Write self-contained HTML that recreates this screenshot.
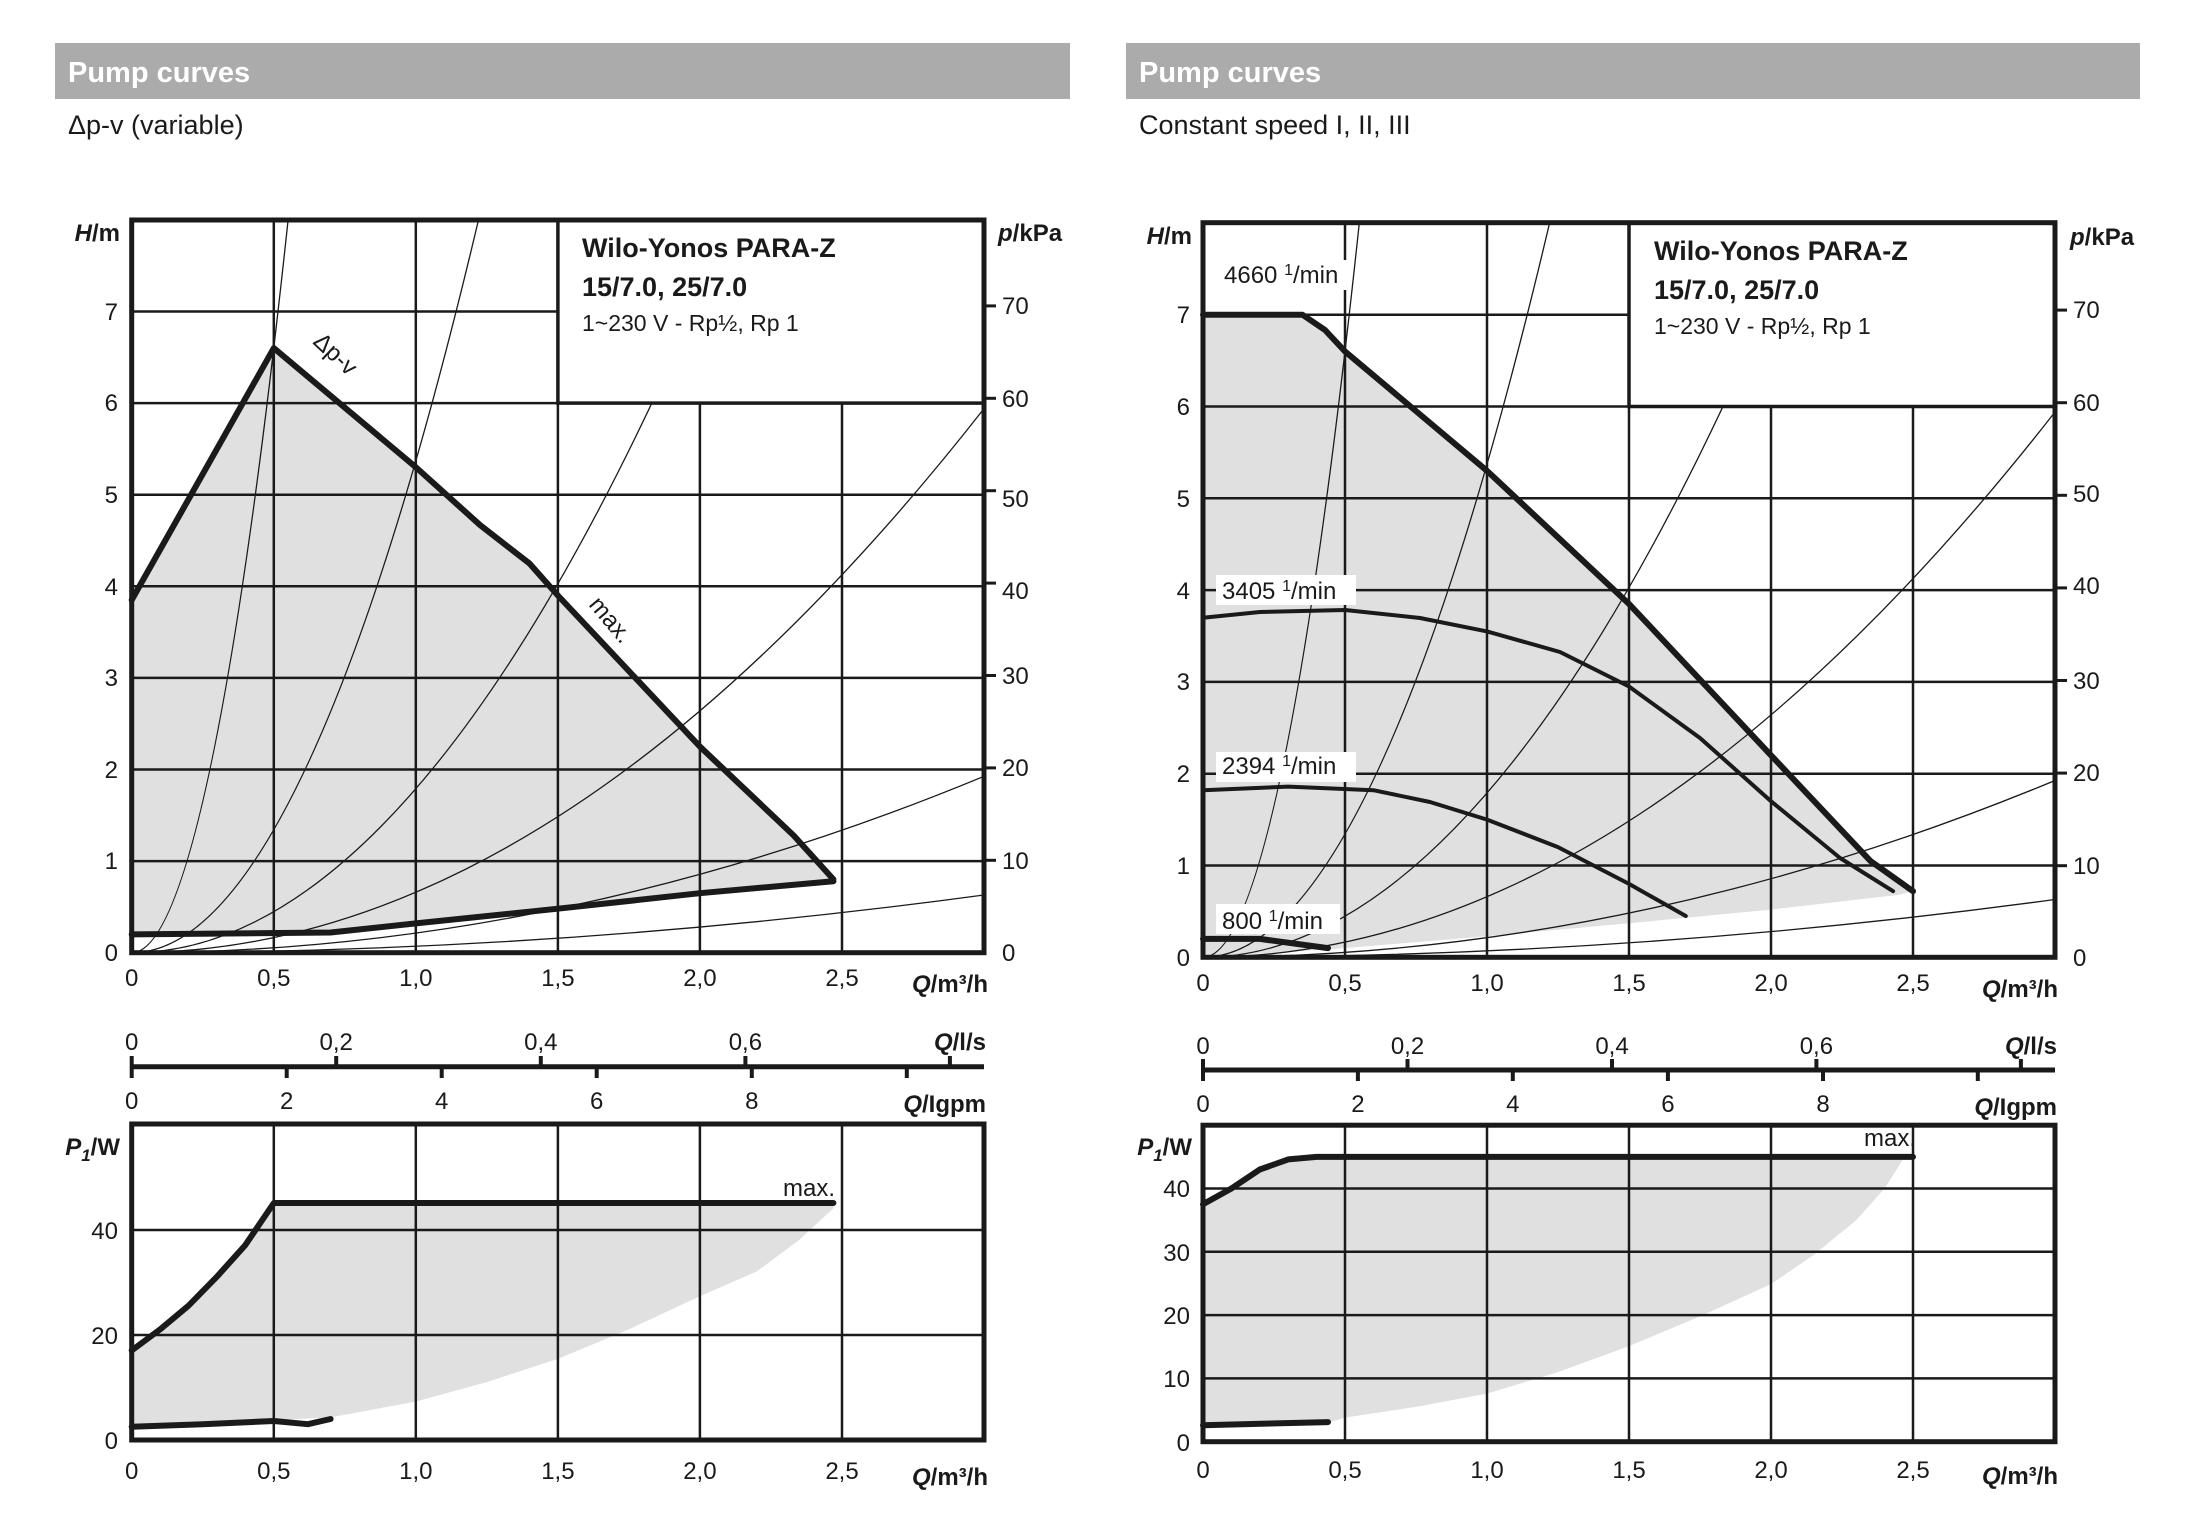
<!DOCTYPE html>
<html><head><meta charset="utf-8"><style>
html,body{margin:0;padding:0;background:#fff}
svg{display:block}
text{font-family:"Liberation Sans","DejaVu Sans",sans-serif;fill:#1a1a1a}
.t{font-size:24px}
.b{font-weight:bold}
.g{stroke:#1a1a1a;stroke-width:2.5;fill:none}
.s{stroke:#1a1a1a;stroke-width:1.3;fill:none}
.bd{stroke:#1a1a1a;stroke-width:5;fill:none}
.th{stroke:#1a1a1a;stroke-width:6;fill:none;stroke-linejoin:round;stroke-linecap:round}
.md{stroke:#1a1a1a;stroke-width:4;fill:none;stroke-linejoin:round;stroke-linecap:round}
</style></head><body>
<svg width="2189" height="1534" viewBox="0 0 2189 1534" xmlns="http://www.w3.org/2000/svg">
<defs>
<clipPath id="cl"><rect x="131.7" y="220" width="852.3" height="732.7"/></clipPath>
<clipPath id="cr"><rect x="1203" y="222.7" width="852" height="734.6"/></clipPath>
</defs>
<rect x="55" y="43" width="1015" height="56" fill="#ababab"/>
<rect x="1126" y="43" width="1014" height="56" fill="#ababab"/>
<text x="68" y="82" style="font-size:29px;font-weight:bold;fill:#fff">Pump curves</text>
<text x="1139" y="82" style="font-size:29px;font-weight:bold;fill:#fff">Pump curves</text>
<text x="68" y="134" style="font-size:27px">Δp-v (variable)</text>
<text x="1139" y="134" style="font-size:27px">Constant speed I, II, III</text>

<polygon fill="#e0e0e0" points="131.7,600 273.8,348.1 415.8,467.2 529.4,563.4 557.9,595.5 699.9,746.6 793.7,835.5 833.4,879.4 833.4,881.2 699.9,893.2 557.9,908.7 415.8,923.4 330.6,932.5 131.7,934.4"/>
<g class="g">
<line x1="273.8" y1="220" x2="273.8" y2="952.7"/><line x1="415.8" y1="220" x2="415.8" y2="952.7"/><line x1="557.9" y1="220" x2="557.9" y2="952.7"/><line x1="699.9" y1="220" x2="699.9" y2="952.7"/><line x1="842" y1="220" x2="842" y2="952.7"/>
<line x1="131.7" y1="861.1" x2="984" y2="861.1"/><line x1="131.7" y1="769.5" x2="984" y2="769.5"/><line x1="131.7" y1="677.9" x2="984" y2="677.9"/><line x1="131.7" y1="586.3" x2="984" y2="586.3"/><line x1="131.7" y1="494.7" x2="984" y2="494.7"/><line x1="131.7" y1="403.1" x2="984" y2="403.1"/><line x1="131.7" y1="311.5" x2="984" y2="311.5"/>
</g>
<g class="s" clip-path="url(#cl)">
<path d="M131.7,952.7 Q209.9,952.7 288.1,219.9"/>
<path d="M131.7,952.7 Q305.1,952.7 478.5,219.9"/>
<path d="M131.7,952.7 Q432,952.7 732.3,219.9"/>
<path d="M131.7,952.7 Q557.9,952.7 984,408.6"/>
<path d="M131.7,952.7 Q557.9,952.7 984,776.3"/>
<path d="M131.7,952.7 Q557.9,952.7 984,895"/>
</g>
<polyline class="th" points="131.7,600 273.8,348.1 415.8,467.2 480,525 529.4,563.4 557.9,595.5 699.9,746.6 793.7,835.5 833.4,879.4"/>
<polyline class="th" points="131.7,934.4 330.6,932.5 415.8,923.4 557.9,908.7 699.9,893.2 833.4,881.2"/>
<rect x="557.9" y="220" width="426.1" height="183.1" fill="#fff" stroke="#1a1a1a" stroke-width="3.5"/>
<text x="582" y="257" class="b" style="font-size:27px">Wilo-Yonos PARA-Z</text>
<text x="582" y="296" class="b" style="font-size:27px">15/7.0, 25/7.0</text>
<text x="582" y="331" style="font-size:23px">1~230 V - Rp½, Rp 1</text>
<text transform="translate(312,343) rotate(43)" class="t">Δp-v</text>
<text transform="translate(588,605) rotate(50)" class="t">max.</text>
<rect x="131.7" y="220" width="852.3" height="732.7" class="bd"/>
<g class="t" text-anchor="end">
<text x="118" y="961">0</text><text x="118" y="869">1</text><text x="118" y="778">2</text><text x="118" y="686">3</text><text x="118" y="595">4</text><text x="118" y="503">5</text><text x="118" y="411">6</text><text x="118" y="320">7</text>
</g>
<text x="120" y="241" text-anchor="end" class="b" style="font-size:24px"><tspan font-style="italic">H</tspan>/m</text>
<g class="bd" style="stroke-width:3"><line x1="984" y1="860.3" x2="996" y2="860.3"/><line x1="984" y1="767.9" x2="996" y2="767.9"/><line x1="984" y1="675.5" x2="996" y2="675.5"/><line x1="984" y1="583.1" x2="996" y2="583.1"/><line x1="984" y1="490.7" x2="996" y2="490.7"/><line x1="984" y1="398.3" x2="996" y2="398.3"/><line x1="984" y1="305.9" x2="996" y2="305.9"/></g>
<g class="t"><text x="1002" y="961">0</text><text x="1002" y="869">10</text><text x="1002" y="776">20</text><text x="1002" y="684">30</text><text x="1002" y="599">40</text><text x="1002" y="507">50</text><text x="1002" y="407">60</text><text x="1002" y="314">70</text></g>
<text x="998" y="241" class="b" style="font-size:24px"><tspan font-style="italic">p</tspan>/kPa</text>
<g class="t" text-anchor="middle"><text x="131.7" y="986">0</text><text x="273.8" y="986">0,5</text><text x="415.8" y="986">1,0</text><text x="557.9" y="986">1,5</text><text x="699.9" y="986">2,0</text><text x="842" y="986">2,5</text></g>
<text x="988" y="992" text-anchor="end" class="b" style="font-size:24px"><tspan font-style="italic">Q</tspan>/m³/h</text>
<line x1="131.7" y1="1066.7" x2="984" y2="1066.7" class="bd"/>
<g class="bd" style="stroke-width:4"><line x1="131.7" y1="1056" x2="131.7" y2="1078"/><line x1="336.2" y1="1056" x2="336.2" y2="1067"/><line x1="540.8" y1="1056" x2="540.8" y2="1067"/><line x1="745.4" y1="1056" x2="745.4" y2="1067"/><line x1="949.9" y1="1056" x2="949.9" y2="1067"/>
<line x1="286.7" y1="1067" x2="286.7" y2="1078"/><line x1="441.7" y1="1067" x2="441.7" y2="1078"/><line x1="596.7" y1="1067" x2="596.7" y2="1078"/><line x1="751.8" y1="1067" x2="751.8" y2="1078"/><line x1="906.8" y1="1067" x2="906.8" y2="1078"/></g>
<g class="t" text-anchor="middle"><text x="131.7" y="1050">0</text><text x="336.2" y="1050">0,2</text><text x="540.8" y="1050">0,4</text><text x="745.4" y="1050">0,6</text>
<text x="131.7" y="1109">0</text><text x="286.7" y="1109">2</text><text x="441.7" y="1109">4</text><text x="596.7" y="1109">6</text><text x="751.8" y="1109">8</text></g>
<text x="986" y="1050" text-anchor="end" class="b" style="font-size:24px"><tspan font-style="italic">Q</tspan>/l/s</text>
<text x="986" y="1112" text-anchor="end" class="b" style="font-size:24px"><tspan font-style="italic">Q</tspan>/Igpm</text>
<polygon fill="#e0e0e0" points="131.7,1350.5 160.1,1329.4 188.5,1305.7 216.9,1276.7 245.3,1245.1 273.8,1203 833.4,1203 833.4,1208.3 799.3,1239.9 756.7,1271.5 699.9,1296.2 628.9,1329.4 557.9,1358.9 486.8,1382.1 415.8,1401.6 330.6,1417.4 131.7,1427"/>
<g class="g">
<line x1="273.8" y1="1124" x2="273.8" y2="1440"/><line x1="415.8" y1="1124" x2="415.8" y2="1440"/><line x1="557.9" y1="1124" x2="557.9" y2="1440"/><line x1="699.9" y1="1124" x2="699.9" y2="1440"/><line x1="842" y1="1124" x2="842" y2="1440"/>
<line x1="131.7" y1="1335" x2="984" y2="1335"/><line x1="131.7" y1="1230" x2="984" y2="1230"/>
</g>
<polyline class="th" points="131.7,1350.5 160.1,1329.4 188.5,1305.7 216.9,1276.7 245.3,1245.1 273.8,1203 833.4,1203"/>
<polyline class="th" points="131.7,1426.8 202.7,1424.2 273.8,1421 307.8,1424.2 330.6,1419"/>
<rect x="131.7" y="1124" width="852.3" height="316" class="bd"/>
<g class="t" text-anchor="end"><text x="118" y="1449">0</text><text x="118" y="1344">20</text><text x="118" y="1239">40</text></g>
<text x="120" y="1155" text-anchor="end" class="b" style="font-size:24px"><tspan font-style="italic">P<tspan font-size="17" dy="6">1</tspan></tspan><tspan dy="-6">/W</tspan></text>
<text x="835" y="1196" text-anchor="end" class="t">max.</text>
<g class="t" text-anchor="middle"><text x="131.7" y="1479">0</text><text x="273.8" y="1479">0,5</text><text x="415.8" y="1479">1,0</text><text x="557.9" y="1479">1,5</text><text x="699.9" y="1479">2,0</text><text x="842" y="1479">2,5</text></g>
<text x="988" y="1485" text-anchor="end" class="b" style="font-size:24px"><tspan font-style="italic">Q</tspan>/m³/h</text>

<polygon fill="#e0e0e0" points="1203,314.7 1302.4,314.7 1345,351.4 1487,470.8 1629,603.9 1771,755.3 1870.4,860.9 1913,891.2 1898.8,894.9 1771,909.6 1629,923.3 1487,936.2 1345,948.1 1203,957.3"/>
<g class="g">
<line x1="1345" y1="222.7" x2="1345" y2="957.3"/><line x1="1487" y1="222.7" x2="1487" y2="957.3"/><line x1="1629" y1="222.7" x2="1629" y2="957.3"/><line x1="1771" y1="222.7" x2="1771" y2="957.3"/><line x1="1913" y1="222.7" x2="1913" y2="957.3"/>
<line x1="1203" y1="865.5" x2="2055" y2="865.5"/><line x1="1203" y1="773.7" x2="2055" y2="773.7"/><line x1="1203" y1="681.9" x2="2055" y2="681.9"/><line x1="1203" y1="590.1" x2="2055" y2="590.1"/><line x1="1203" y1="498.3" x2="2055" y2="498.3"/><line x1="1203" y1="406.5" x2="2055" y2="406.5"/><line x1="1203" y1="314.7" x2="2055" y2="314.7"/>
</g>
<g class="s" clip-path="url(#cr)">
<path d="M1203,957.3 Q1281.2,957.3 1359.3,222.9"/>
<path d="M1203,957.3 Q1376.3,957.3 1549.6,222.9"/>
<path d="M1203,957.3 Q1503.2,957.3 1803.4,222.9"/>
<path d="M1203,957.3 Q1629,957.3 2055,412"/>
<path d="M1203,957.3 Q1629,957.3 2055,780.5"/>
<path d="M1203,957.3 Q1629,957.3 2055,899.5"/>
</g>
<polyline class="th" points="1203,314.7 1302.4,314.7 1325,330 1345,351.4 1487,470.8 1629,603.9 1771,755.3 1870.4,860.9 1913,891.2"/>
<polyline class="md" points="1203,617.7 1260,612 1345,610 1420,618 1487,631.4 1560,652 1629,686.5 1700,738 1771,801.2 1840,858 1893.1,891.2"/>
<polyline class="md" points="1203,790.2 1288.2,786.6 1373.4,790.2 1430,802 1487,819.6 1558,847.1 1629,883.9 1685.8,916"/>
<polyline class="th" points="1203,938.9 1259.8,938.9 1328,948.1"/>
<g class="t">
<rect x="1222" y="260" width="128" height="30" fill="#fff"/><text x="1224" y="283">4660 <tspan font-size="16" dy="-8">1</tspan><tspan dy="8">/min</tspan></text>
<rect x="1216" y="575" width="140" height="30" fill="#fff"/><text x="1222" y="599">3405 <tspan font-size="16" dy="-8">1</tspan><tspan dy="8">/min</tspan></text>
<rect x="1216" y="752" width="140" height="30" fill="#fff"/><text x="1222" y="774">2394 <tspan font-size="16" dy="-8">1</tspan><tspan dy="8">/min</tspan></text>
<rect x="1216" y="904" width="124" height="30" fill="#fff"/><text x="1222" y="929">800 <tspan font-size="16" dy="-8">1</tspan><tspan dy="8">/min</tspan></text>
</g>
<rect x="1629" y="222.7" width="426" height="183.8" fill="#fff" stroke="#1a1a1a" stroke-width="3.5"/>
<text x="1654" y="260" class="b" style="font-size:27px">Wilo-Yonos PARA-Z</text>
<text x="1654" y="299" class="b" style="font-size:27px">15/7.0, 25/7.0</text>
<text x="1654" y="334" style="font-size:23px">1~230 V - Rp½, Rp 1</text>
<rect x="1203" y="222.7" width="852" height="734.6" class="bd"/>
<g class="t" text-anchor="end">
<text x="1190" y="966">0</text><text x="1190" y="874">1</text><text x="1190" y="782">2</text><text x="1190" y="690">3</text><text x="1190" y="599">4</text><text x="1190" y="507">5</text><text x="1190" y="415">6</text><text x="1190" y="323">7</text>
</g>
<text x="1192" y="244" text-anchor="end" class="b" style="font-size:24px"><tspan font-style="italic">H</tspan>/m</text>
<g class="bd" style="stroke-width:3"><line x1="2055" y1="865.7" x2="2067" y2="865.7"/><line x1="2055" y1="773.1" x2="2067" y2="773.1"/><line x1="2055" y1="680.5" x2="2067" y2="680.5"/><line x1="2055" y1="587.9" x2="2067" y2="587.9"/><line x1="2055" y1="495.3" x2="2067" y2="495.3"/><line x1="2055" y1="402.7" x2="2067" y2="402.7"/><line x1="2055" y1="310.1" x2="2067" y2="310.1"/></g>
<g class="t"><text x="2073" y="966">0</text><text x="2073" y="874">10</text><text x="2073" y="781">20</text><text x="2073" y="689">30</text><text x="2073" y="594">40</text><text x="2073" y="502">50</text><text x="2073" y="411">60</text><text x="2073" y="318">70</text></g>
<text x="2070" y="245" class="b" style="font-size:24px"><tspan font-style="italic">p</tspan>/kPa</text>
<g class="t" text-anchor="middle"><text x="1203" y="991">0</text><text x="1345" y="991">0,5</text><text x="1487" y="991">1,0</text><text x="1629" y="991">1,5</text><text x="1771" y="991">2,0</text><text x="1913" y="991">2,5</text></g>
<text x="2058" y="997" text-anchor="end" class="b" style="font-size:24px"><tspan font-style="italic">Q</tspan>/m³/h</text>
<line x1="1203" y1="1070" x2="2055" y2="1070" class="bd"/>
<g class="bd" style="stroke-width:4"><line x1="1203" y1="1059" x2="1203" y2="1081"/><line x1="1407.5" y1="1059" x2="1407.5" y2="1070"/><line x1="1612" y1="1059" x2="1612" y2="1070"/><line x1="1816.4" y1="1059" x2="1816.4" y2="1070"/><line x1="2020.9" y1="1059" x2="2020.9" y2="1070"/>
<line x1="1357.9" y1="1070" x2="1357.9" y2="1081"/><line x1="1512.8" y1="1070" x2="1512.8" y2="1081"/><line x1="1667.9" y1="1070" x2="1667.9" y2="1081"/><line x1="1823" y1="1070" x2="1823" y2="1081"/><line x1="1977.8" y1="1070" x2="1977.8" y2="1081"/></g>
<g class="t" text-anchor="middle"><text x="1203" y="1054">0</text><text x="1407.5" y="1054">0,2</text><text x="1612" y="1054">0,4</text><text x="1816.4" y="1054">0,6</text>
<text x="1203" y="1112">0</text><text x="1357.9" y="1112">2</text><text x="1512.8" y="1112">4</text><text x="1667.9" y="1112">6</text><text x="1823" y="1112">8</text></g>
<text x="2057" y="1054" text-anchor="end" class="b" style="font-size:24px"><tspan font-style="italic">Q</tspan>/l/s</text>
<text x="2057" y="1115" text-anchor="end" class="b" style="font-size:24px"><tspan font-style="italic">Q</tspan>/Igpm</text>
<polygon fill="#e0e0e0" points="1203,1204.3 1231.4,1188.5 1259.8,1169.5 1288.2,1159.4 1316.6,1156.9 1904.5,1156.9 1884.6,1188.5 1856.2,1220.2 1813.6,1255 1771,1284.1 1700,1316.4 1629,1346.1 1558,1372.1 1487,1393.6 1416,1406.9 1345,1417.6 1328,1422.7 1203,1426"/>
<g class="g">
<line x1="1345" y1="1125.2" x2="1345" y2="1441.7"/><line x1="1487" y1="1125.2" x2="1487" y2="1441.7"/><line x1="1629" y1="1125.2" x2="1629" y2="1441.7"/><line x1="1771" y1="1125.2" x2="1771" y2="1441.7"/><line x1="1913" y1="1125.2" x2="1913" y2="1441.7"/>
<line x1="1203" y1="1378.4" x2="2055" y2="1378.4"/><line x1="1203" y1="1315.1" x2="2055" y2="1315.1"/><line x1="1203" y1="1251.8" x2="2055" y2="1251.8"/><line x1="1203" y1="1188.5" x2="2055" y2="1188.5"/>
</g>
<polyline class="th" points="1203,1204.3 1231.4,1188.5 1259.8,1169.5 1288.2,1159.4 1316.6,1156.9 1913,1156.9"/>
<polyline class="th" points="1203,1425.2 1328,1422.1"/>
<rect x="1203" y="1125.2" width="852" height="316.5" class="bd"/>
<g class="t" text-anchor="end"><text x="1190" y="1451">0</text><text x="1190" y="1387">10</text><text x="1190" y="1324">20</text><text x="1190" y="1261">30</text><text x="1190" y="1197">40</text></g>
<text x="1192" y="1155" text-anchor="end" class="b" style="font-size:24px"><tspan font-style="italic">P<tspan font-size="17" dy="6">1</tspan></tspan><tspan dy="-6">/W</tspan></text>
<text x="1916" y="1146" text-anchor="end" class="t">max.</text>
<g class="t" text-anchor="middle"><text x="1203" y="1478">0</text><text x="1345" y="1478">0,5</text><text x="1487" y="1478">1,0</text><text x="1629" y="1478">1,5</text><text x="1771" y="1478">2,0</text><text x="1913" y="1478">2,5</text></g>
<text x="2058" y="1484" text-anchor="end" class="b" style="font-size:24px"><tspan font-style="italic">Q</tspan>/m³/h</text>
</svg>
</body></html>
